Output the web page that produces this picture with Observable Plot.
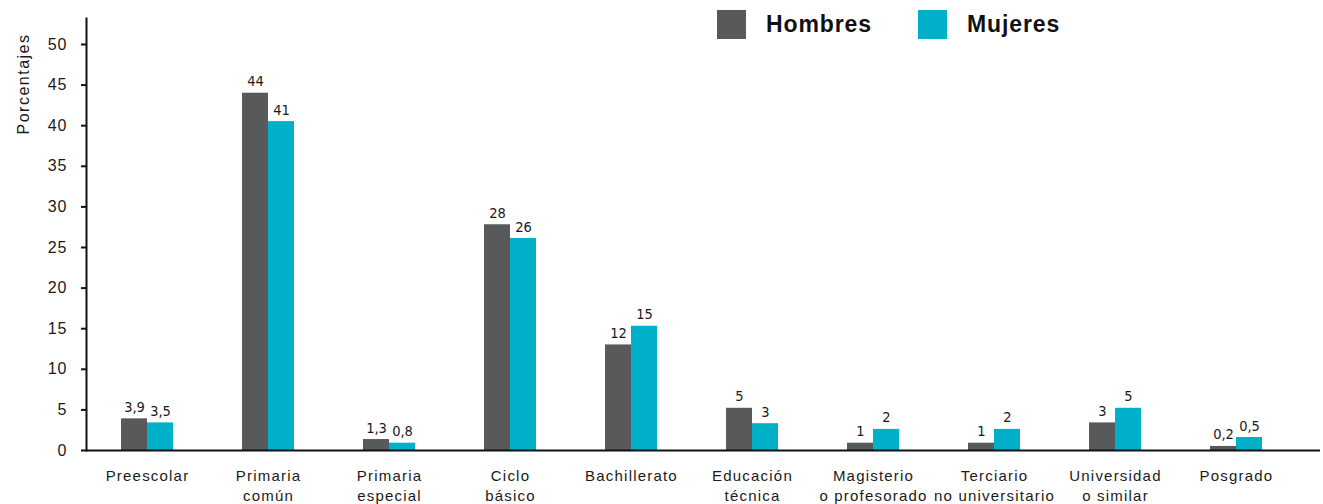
<!DOCTYPE html>
<html>
<head>
<meta charset="utf-8">
<script src="https://cdn.jsdelivr.net/npm/d3@7"></script>
<script src="https://cdn.jsdelivr.net/npm/@observablehq/plot@0.6"></script>
<style>
  body { margin: 0; background: #fff; }
  #chart { position: relative; width: 1323px; height: 504px; }
  #legend { position: absolute; top: 10px; left: 717px; display: flex; align-items: center;
            font-family: "Liberation Sans", Arial, sans-serif; font-weight: bold; font-size: 23px;
            letter-spacing: 0.9px; color: #111; }
  #legend .item { display: flex; align-items: center; }
  #legend .sw { width: 29px; height: 29px; display: inline-block; margin-right: 20px; }
  #legend .item + .item { margin-left: 46px; }
  #chart svg g[aria-label="x-axis tick label"] text { letter-spacing: 1.2px; }
  #chart svg g[aria-label="y-axis tick label"] text { letter-spacing: 1px; }
  #chart svg text.ylab { letter-spacing: 1.5px; }
</style>
</head>
<body>
<div id="chart"><div id="legend"></div></div>
<script>
// Categories (tick labels) and series
const categories = ["Preescolar", "Primaria\ncomún", "Primaria\nespecial", "Ciclo\nbásico", "Bachillerato",
  "Educación\ntécnica", "Magisterio\no profesorado", "Terciario\nno universitario", "Universidad\no similar", "Posgrado"];
const series = ["Hombres", "Mujeres"];
const colors = ["#58595b", "#00afc8"];
// Bar heights
const hombres = [3.9, 44.0, 1.35, 27.8, 13.0, 5.2, 0.9, 0.9, 3.4, 0.5];
const mujeres = [3.4, 40.5, 0.9, 26.1, 15.3, 3.3, 2.6, 2.6, 5.2, 1.6];
// Printed value labels
const hombresLabels = ["3,9", "44", "1,3", "28", "12", "5", "1", "1", "3", "0,2"];
const mujeresLabels = ["3,5", "41", "0,8", "26", "15", "3", "2", "2", "5", "0,5"];
const yTicks = [0, 5, 10, 15, 20, 25, 30, 35, 40, 45, 50];
const yLabel = "Porcentajes";

const rowsH = categories.map((c, i) => ({cat: c, value: hombres[i], label: hombresLabels[i]}));
const rowsM = categories.map((c, i) => ({cat: c, value: mujeres[i], label: mujeresLabels[i]}));

const valueFont = "'DejaVu Sans Condensed', 'Liberation Sans Narrow', 'Liberation Sans', sans-serif";

const plot = Plot.plot({
  width: 1323,
  height: 504,
  marginLeft: 86,
  marginRight: 3,
  marginTop: 18,
  marginBottom: 54,
  style: {fontFamily: "'Liberation Sans', Arial, sans-serif", background: "white", color: "#1a1a1a"},
  x: {type: "band", domain: categories, paddingInner: 0.573, paddingOuter: 0.352, align: 0.373},
  y: {domain: [0, 53.2]},
  marks: [
    Plot.barY(rowsH, {x: "cat", y: "value", fill: colors[0], insetRight: 26}),
    Plot.barY(rowsM, {x: "cat", y: "value", fill: colors[1], insetLeft: 26}),
    Plot.text(rowsH, {x: "cat", y: "value", text: "label", dx: -13, dy: -7, lineAnchor: "bottom",
      fontSize: 14.5, fontFamily: valueFont, fill: "#1a1a1a"}),
    Plot.text(rowsM, {x: "cat", y: "value", text: "label", dx: 13, dy: -7, lineAnchor: "bottom",
      fontSize: 14.5, fontFamily: valueFont, fill: "#1a1a1a"}),
    Plot.frame({anchor: "left", strokeWidth: 2, stroke: "#111"}),
    Plot.ruleY([0], {strokeWidth: 2, stroke: "#111"}),
    Plot.axisY({ticks: yTicks, tickSize: 5, tickPadding: 14, fontSize: 16,
      strokeWidth: 2, stroke: "#111", label: null}),
    Plot.axisX({tickSize: 0, tickPadding: 16, fontSize: 15, lineHeight: 1.35, label: null}),
    Plot.text([yLabel], {frameAnchor: "top-left", text: d => d, rotate: -90, textAnchor: "end",
      dx: -69, dy: 15, fontSize: 16, fill: "#1a1a1a"})
  ]
});
document.getElementById("chart").appendChild(plot);
d3.select(plot).selectAll("text").filter(function() { return this.textContent === yLabel; }).classed("ylab", true);

const legend = document.getElementById("legend");
series.forEach((s, i) => {
  const item = document.createElement("div");
  item.className = "item";
  const sw = document.createElement("span");
  sw.className = "sw";
  sw.style.background = colors[i];
  const t = document.createElement("span");
  t.textContent = s;
  item.appendChild(sw);
  item.appendChild(t);
  legend.appendChild(item);
});
</script>
</body>
</html>
